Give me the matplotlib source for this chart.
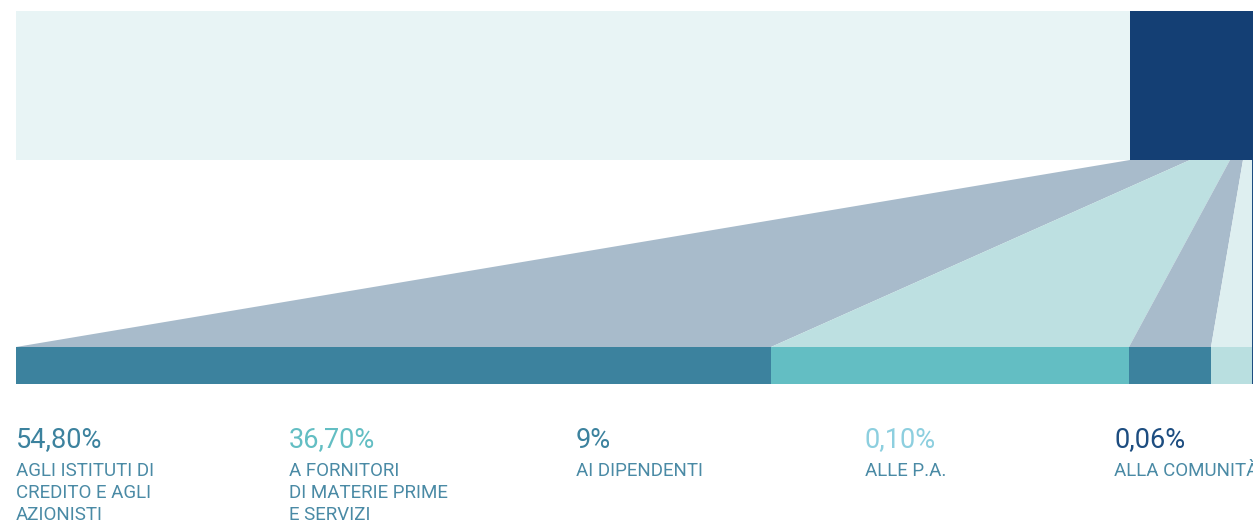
import numpy as np
import matplotlib.pyplot as plt
from matplotlib.patches import Rectangle, Polygon

# values shown under the chart
percent_labels = ["54,80%", "36,70%", "9%", "0,10%", "0,06%"]
descriptions = [
    "AGLI ISTITUTI DI\nCREDITO E AGLI\nAZIONISTI",
    "A FORNITORI\nDI MATERIE PRIME\nE SERVIZI",
    "AI DIPENDENTI",
    "ALLE P.A.",
    "ALLA COMUNITÀ",
]
percent_colors = ["#3c829e", "#63bec3", "#3c829e", "#8dcfdf", "#1d4d80"]

# widths of the segments as drawn (pixels)
bottom_widths = [755, 358, 82, 41]
bottom_colors = ["#3c829e", "#63bec3", "#3c829e", "#b9dfe0"]
funnel_top_widths = [60, 40, 13, 9]
funnel_colors = ["#a8bbcb", "#bde0e1", "#a8bbcb", "#deeff0"]

W, H = 1253, 523
left = 16
top_y0, top_y1 = 11, 160
bar_y0, bar_y1 = 347, 384

fig = plt.figure(figsize=(W / 100, H / 100), dpi=100)
ax = fig.add_axes([0, 0, 1, 1])
ax.set_xlim(0, W)
ax.set_ylim(H, 0)
ax.axis("off")

navy_x = W - 1 - sum(funnel_top_widths)

# top band
ax.add_patch(Rectangle((left, top_y0), navy_x - left, top_y1 - top_y0, color="#e8f4f5", lw=0))
ax.add_patch(Rectangle((navy_x, top_y0), W - navy_x, top_y1 - top_y0, color="#143f74", lw=0))

# funnel
top_edges = navy_x + np.concatenate([[0], np.cumsum(funnel_top_widths)])
bot_edges = left + np.concatenate([[0], np.cumsum(bottom_widths)])
for i, c in enumerate(funnel_colors):
    poly = [(top_edges[i], top_y1), (top_edges[i + 1], top_y1),
            (bot_edges[i + 1], bar_y0), (bot_edges[i], bar_y0)]
    ax.add_patch(Polygon(poly, closed=True, color=c, lw=0))

# bottom bar
for i, c in enumerate(bottom_colors):
    ax.add_patch(Rectangle((bot_edges[i], bar_y0), bottom_widths[i], bar_y1 - bar_y0, color=c, lw=0))

# thin navy line at right edge
ax.add_patch(Rectangle((bot_edges[-1], top_y1), W - bot_edges[-1], bar_y1 - top_y1, color="#1d4d80", lw=0))

# labels
text_x = [16, 289, 576, 865, 1114]
for x, p, d, c in zip(text_x, percent_labels, descriptions, percent_colors):
    ax.text(x, 440, p, color=c, fontsize=19.5, family="Roboto", va="center", ha="left")
    ax.text(x, 462, d, color="#4a8aa5", fontsize=13.5, family="Roboto", va="top", ha="left",
            linespacing=1.3)

fig.savefig("out.png", dpi=100)
